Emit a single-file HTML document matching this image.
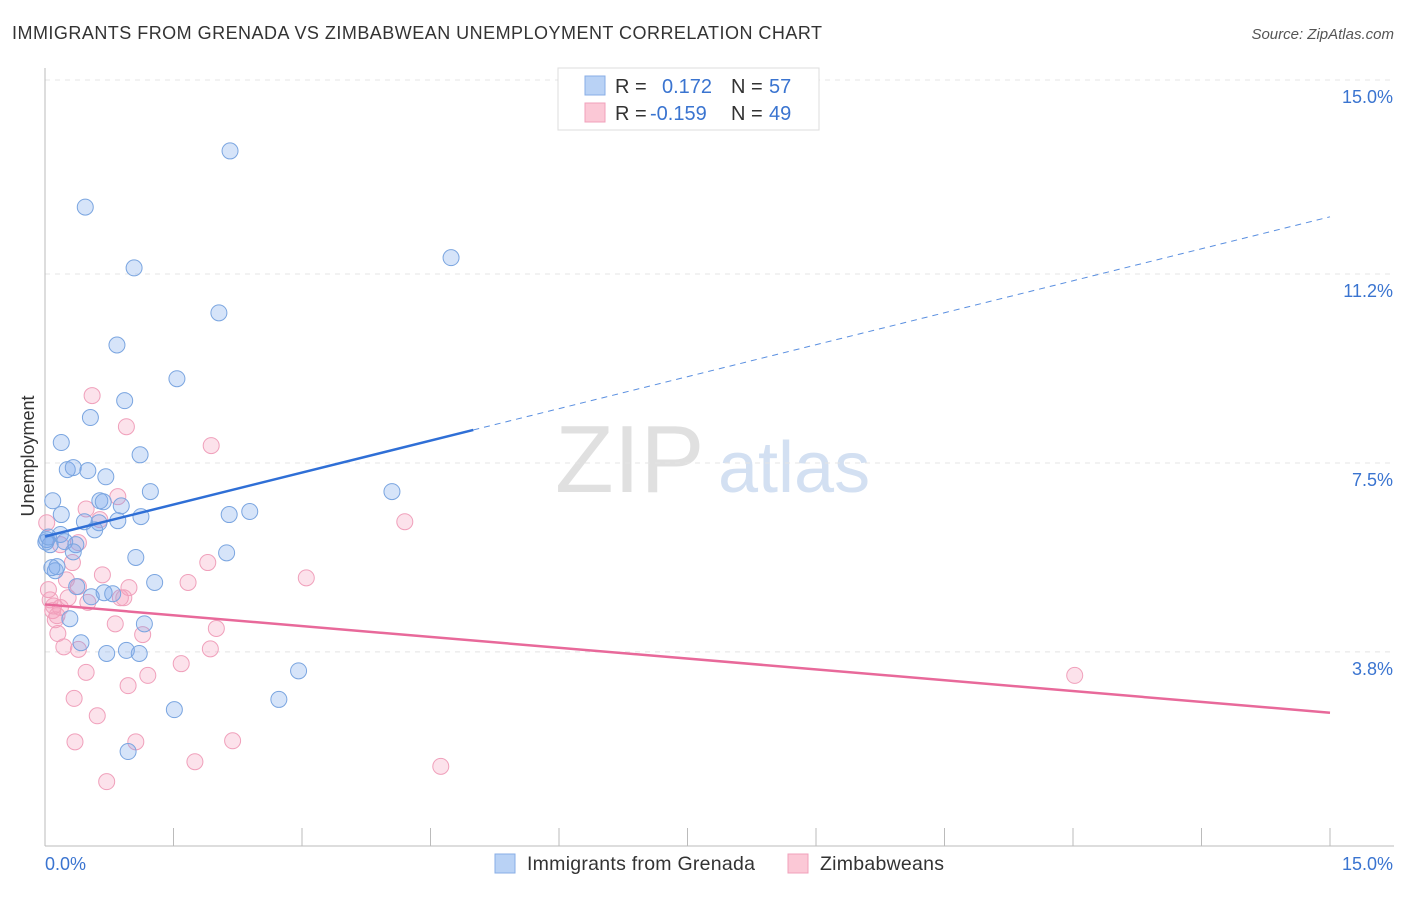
<!DOCTYPE html>
<html><head><meta charset="utf-8"><style>
body{margin:0;background:#fff;font-family:"Liberation Sans",sans-serif;}
svg text{font-family:"Liberation Sans",sans-serif;}
</style></head><body>
<svg id="chart" width="1406" height="892">
<text x="12" y="39" font-size="18" fill="#333" textLength="810">IMMIGRANTS FROM GRENADA VS ZIMBABWEAN UNEMPLOYMENT CORRELATION CHART</text>
<text x="1394" y="39" font-size="15" fill="#555" font-style="italic" text-anchor="end">Source: ZipAtlas.com</text>
<text x="34" y="456" font-size="18" fill="#333" transform="rotate(-90 34 456)" text-anchor="middle">Unemployment</text>
<text x="555" y="492" font-size="96" fill="#e0e0e0" font-family="Liberation Serif">ZIP</text>
<text x="718" y="492" font-size="72" fill="#d3e0f2">atlas</text>
<g id="grid"></g><g id="pts"></g><g id="lines"></g>
<g>
<rect x="558" y="68" width="261" height="62" fill="#fff" stroke="#ddd"/>
<rect x="585" y="76" width="20" height="19" fill="#b9d2f5" stroke="#88aee6"/>
<rect x="585" y="103" width="20" height="19" fill="#fbc8d6" stroke="#f0a0bb"/>
<text x="615" y="93" font-size="20" fill="#333">R =</text>
<text x="662" y="93" font-size="20" fill="#3a74d0">0.172</text>
<text x="731" y="93" font-size="20" fill="#333">N =</text>
<text x="769" y="93" font-size="20" fill="#3a74d0">57</text>
<text x="615" y="120" font-size="20" fill="#333">R =</text>
<text x="650" y="120" font-size="20" fill="#3a74d0">-0.159</text>
<text x="731" y="120" font-size="20" fill="#333">N =</text>
<text x="769" y="120" font-size="20" fill="#3a74d0">49</text>
</g>
<g>
<rect x="495" y="854" width="20" height="19" fill="#b9d2f5" stroke="#88aee6"/>
<text x="527" y="870" font-size="19.5" fill="#333" textLength="228">Immigrants from Grenada</text>
<rect x="788" y="854" width="20" height="19" fill="#fbc8d6" stroke="#f0a0bb"/>
<text x="820" y="870" font-size="19.5" fill="#333" textLength="124">Zimbabweans</text>
</g>
</svg>
<script>
const yTicks=[3.8,7.5,11.2,15.0];
const yTickLabels=["3.8%","7.5%","11.2%","15.0%"];
const blueX=[2.16,.47,1.04,4.74,2.03,.84,1.54,.93,.53,.19,1.11,.26,.33,.50,.71,1.23,4.05,.09,.64,.68,.89,.19,.46,.63,.85,1.12,2.15,2.39,.58,.18,.02,.06,.23,.36,.33,1.06,2.12,.14,.12,1.28,.37,.54,.69,.79,.29,1.16,.42,.72,.95,1.10,2.96,2.73,1.51,.97,.01,.08,.04];
const blueY=[13.61,12.51,11.32,11.52,10.44,9.81,9.15,8.72,8.39,7.90,7.66,7.37,7.41,7.35,7.23,6.94,6.94,6.76,6.76,6.74,6.66,6.49,6.35,6.33,6.37,6.45,6.49,6.55,6.19,6.10,6.00,5.90,5.96,5.90,5.76,5.65,5.74,5.47,5.39,5.16,5.08,4.88,4.96,4.94,4.45,4.35,3.98,3.77,3.83,3.77,3.43,2.87,2.67,1.85,5.95,5.45,6.05];
const pinkX=[.55,.95,1.94,.85,.48,.02,.39,.18,.32,1.90,.67,3.05,1.67,.39,.98,.06,.27,.50,.88,.92,.18,.09,.12,.82,2.00,1.14,.15,.22,.39,1.93,1.59,.48,1.20,.97,.34,.61,.35,1.06,2.19,1.75,4.62,.72,4.20,12.02,.04,.14,.25,.64,.10];
const pinkY=[8.82,8.21,7.84,6.84,6.60,6.33,5.94,5.90,5.55,5.55,5.31,5.25,5.16,5.08,5.06,4.82,4.86,4.77,4.86,4.86,4.67,4.61,4.43,4.35,4.26,4.14,4.16,3.90,3.85,3.86,3.57,3.40,3.34,3.14,2.89,2.55,2.04,2.04,2.06,1.65,1.56,1.26,6.35,3.34,5.02,4.51,5.21,6.39,4.70];
const blueTrend=[6.06,12.32];
const pinkTrend=[4.73,2.61];
const sx=v=>45+v/15*1285;
const sy=v=>846-v*51.07;
const NS="http://www.w3.org/2000/svg";
function mk(t,a,p){const e=document.createElementNS(NS,t);for(const k in a)e.setAttribute(k,a[k]);p.appendChild(e);return e;}
const grid=document.getElementById('grid');
yTicks.forEach((t,i)=>{
 const l=mk('line',{x1:45,x2:1394,y1:sy(t),y2:sy(t),stroke:'#e4e4e4','stroke-dasharray':'5,5'},grid);
 
 
 const tx=mk('text',{x:1393,y:sy(t)+23,'font-size':18,fill:'#3a74d0','text-anchor':'end'},grid);
 tx.textContent=yTickLabels[i];
 
 
});
const ax=mk('line',{x1:45,x2:1394,y1:846,y2:846,stroke:'#bbb'},grid);


const ay=mk('line',{x1:45,x2:45,y1:68,y2:846,stroke:'#bbb'},grid);


for(let i=1;i<=10;i++){const t=mk('line',{x1:sx(i*1.5),x2:sx(i*1.5),y1:828,y2:846,stroke:'#bbb'},grid);
 
 }
const x0=mk('text',{x:45,y:870,'font-size':18,fill:'#3a74d0'},grid);x0.textContent='0.0%';


const x1=mk('text',{x:1393,y:870,'font-size':18,fill:'#3a74d0','text-anchor':'end'},grid);x1.textContent='15.0%';


const pts=document.getElementById('pts');
pinkX.forEach((x,i)=>{const c=mk('circle',{cx:sx(x),cy:sy(pinkY[i]),r:8,fill:'rgba(244,160,188,0.3)',stroke:'#f0a0bb','stroke-width':1},pts);
 
 });
blueX.forEach((x,i)=>{const c=mk('circle',{cx:sx(x),cy:sy(blueY[i]),r:8,fill:'rgba(120,165,235,0.3)',stroke:'#7aa5e0','stroke-width':1},pts);
 
 });
const lines=document.getElementById('lines');
const bAt=v=>blueTrend[0]+(blueTrend[1]-blueTrend[0])*v/15;
const b1=mk('line',{x1:sx(0),y1:sy(bAt(0)),x2:sx(5),y2:sy(bAt(5)),stroke:'#2f6fd6','stroke-width':2.5},lines);


const b2=mk('line',{x1:sx(5),y1:sy(bAt(5)),x2:sx(15),y2:sy(bAt(15)),stroke:'#5a8fe0','stroke-width':1,'stroke-dasharray':'6,5'},lines);


const p1=mk('line',{x1:sx(0),y1:sy(pinkTrend[0]),x2:sx(15),y2:sy(pinkTrend[1]),stroke:'#e8699a','stroke-width':2.5},lines);


</script>
</body></html>
